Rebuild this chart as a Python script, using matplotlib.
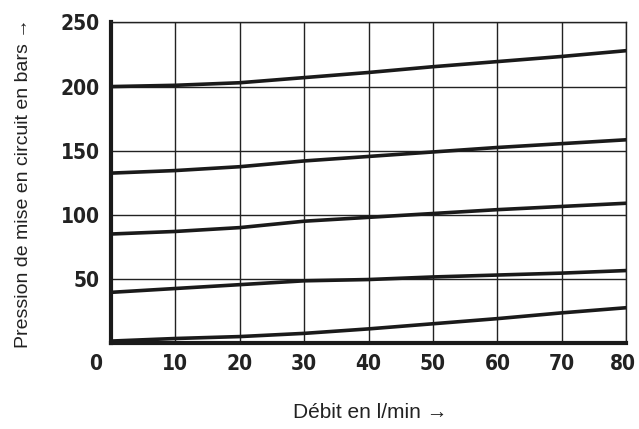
import matplotlib
matplotlib.use("Agg")
import matplotlib.pyplot as plt
import matplotlib.transforms as mtransforms
from matplotlib.font_manager import FontProperties

# debit (l/min) and pressure curves (bars)
debit = [0, 10, 20, 30, 40, 50, 60, 70, 80]
curve_1 = [200, 201, 203, 207, 211, 215.5, 219.5, 223.5, 228]
curve_2 = [132.5, 134.5, 137.5, 142, 145.5, 149, 152.5, 155.5, 158.5]
curve_3 = [85, 87, 90, 95, 98, 101, 104, 106.5, 109]
curve_4 = [39.5, 42.5, 45.5, 48.5, 49.5, 51.5, 53, 54.5, 56.5]
curve_5 = [1.5, 3.5, 5, 7.5, 11, 15, 19, 23.5, 27.5]

x_ticks = [0, 10, 20, 30, 40, 50, 60, 70, 80]
y_ticks = [50, 100, 150, 200, 250]

fig = plt.figure(figsize=(6.39, 4.29), dpi=100)
ax = fig.add_axes([0.1737, 0.2005, 0.8063, 0.7471])

for c in [curve_1, curve_2, curve_3, curve_4, curve_5]:
    ax.plot(debit, c, color="#1a1a1a", lw=2.6, solid_capstyle="butt", zorder=3)

ax.set_xlim(0, 80)
ax.set_ylim(0, 250)
ax.set_xticks(x_ticks)
ax.set_yticks(y_ticks)
ax.grid(True, color="#222222", lw=1.0)
ax.tick_params(length=0, pad=8)

tick_font = FontProperties(family="DejaVu Sans", stretch="condensed", weight="bold", size=15)
for lab in ax.get_xticklabels() + ax.get_yticklabels():
    lab.set_fontproperties(tick_font)
    lab.set_color("#222222")

# the "0" sits left of the corner, the "80" a touch left of the edge
xlabs = ax.get_xticklabels()
xlabs[0].set_transform(xlabs[0].get_transform() + mtransforms.ScaledTranslation(-0.15, 0, fig.dpi_scale_trans))
xlabs[-1].set_transform(xlabs[-1].get_transform() + mtransforms.ScaledTranslation(-0.03, 0, fig.dpi_scale_trans))

for side in ["top", "right"]:
    ax.spines[side].set_linewidth(1.0)
    ax.spines[side].set_color("#222222")
for side in ["left", "bottom"]:
    ax.spines[side].set_linewidth(3.0)
    ax.spines[side].set_color("#1a1a1a")

label_font = ["Liberation Sans", "DejaVu Sans"]
fig.text(0.579, 0.038, "Débit en l/min →", ha="center", va="center",
         family=label_font, size=15, color="#222222")
fig.text(0.036, 0.573, "Pression de mise en circuit en bars →", ha="center", va="center",
         rotation=90, family=label_font, size=14, color="#222222")

fig.savefig("out.png", dpi=100)
